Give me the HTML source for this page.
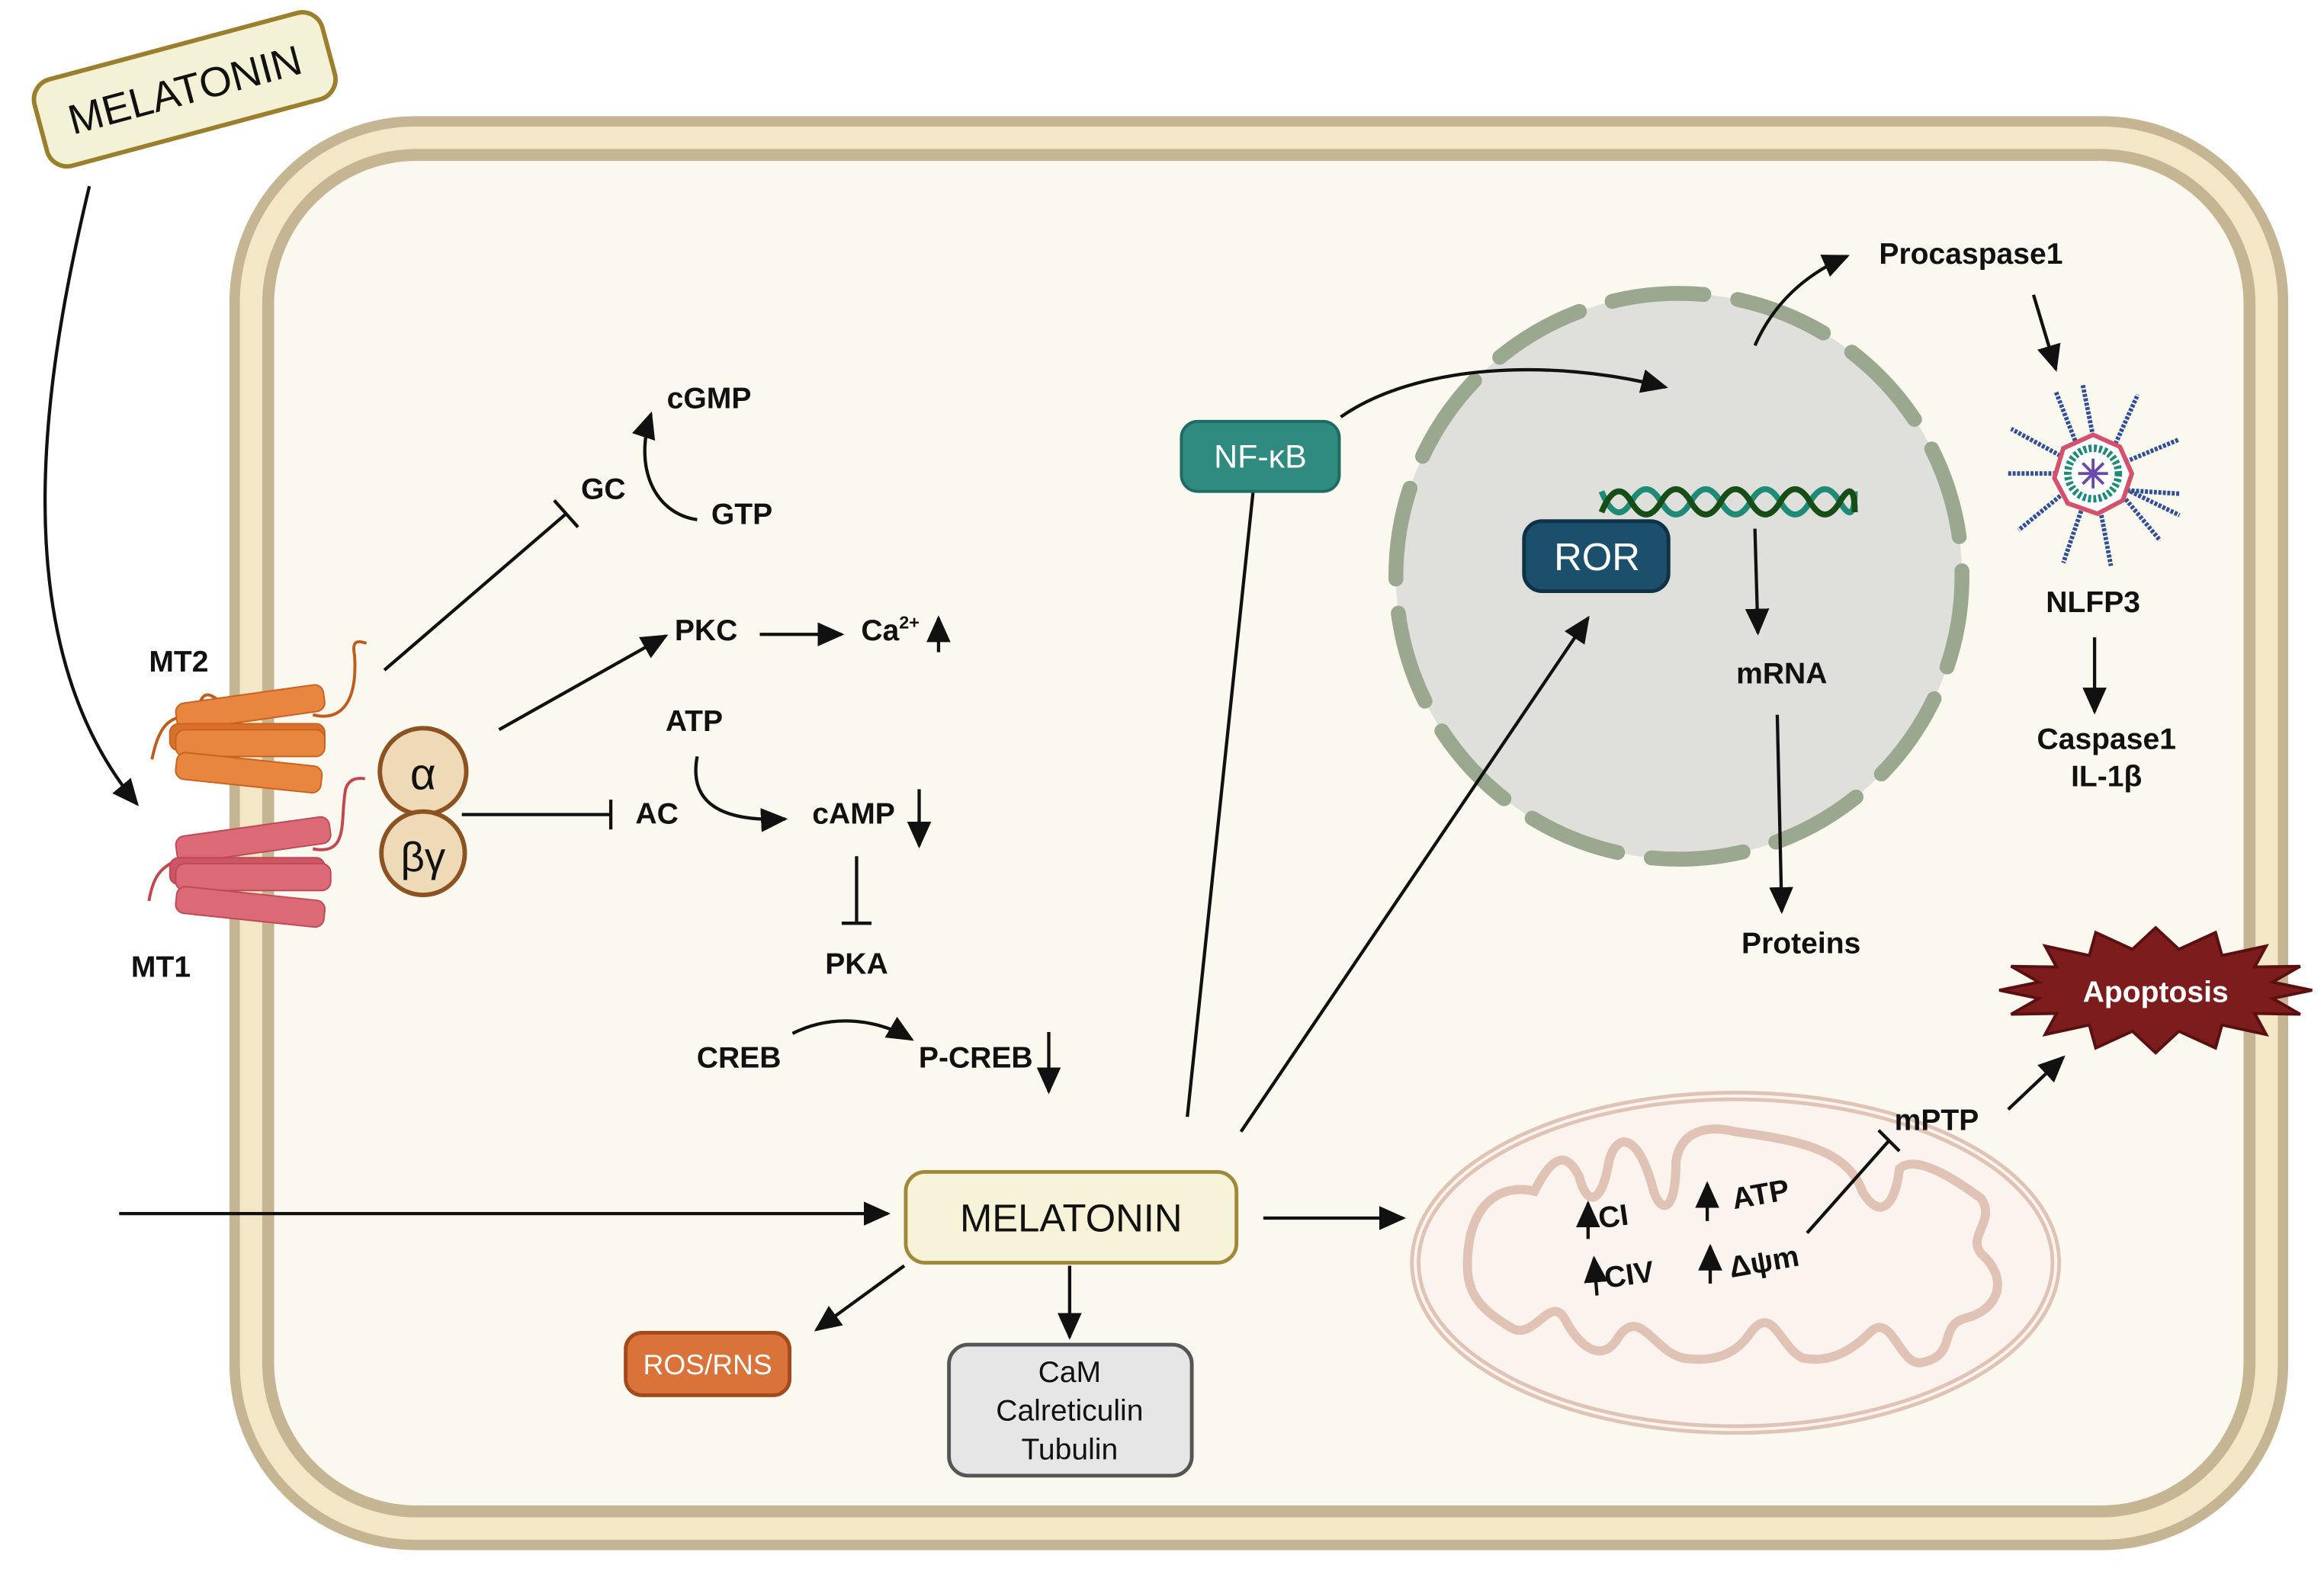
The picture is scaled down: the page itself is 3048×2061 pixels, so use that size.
<!DOCTYPE html>
<html><head><meta charset="utf-8"><style>
html,body{margin:0;padding:0;background:#fff}
svg{display:block}
text{font-family:"Liberation Sans",sans-serif;font-weight:bold;fill:#111}
</style></head><body>
<svg width="3048" height="2061" viewBox="0 0 1560 1055" preserveAspectRatio="none" xmlns="http://www.w3.org/2000/svg">
<defs>
<marker id="ah" viewBox="0 0 10 10" refX="9" refY="5" markerWidth="18" markerHeight="18" orient="auto" markerUnits="userSpaceOnUse"><path d="M0,0.5 L10,5 L0,9.5 z" fill="#111"/></marker>
</defs>
<rect width="1560" height="1055" fill="#fff"/>
<!-- cell -->
<rect x="154" y="78" width="1382" height="963" rx="125" fill="#c5b592"/>
<rect x="161" y="85" width="1368" height="949" rx="118" fill="#f4e7c7"/>
<rect x="176" y="100" width="1338" height="919" rx="104" fill="#c5b592"/>
<rect x="184" y="108" width="1322" height="903" rx="96" fill="#fbf8ef"/>

<!-- top melatonin tag -->
<g transform="translate(124,60) rotate(-15)">
<rect x="-100" y="-30" width="200" height="60" rx="14" fill="#f3f1d6" stroke="#9b7f2c" stroke-width="3"/>
<text x="0" y="10" text-anchor="middle" font-size="28" style="font-weight:normal">MELATONIN</text>
</g>
<path d="M60,125 C30,250 0,430 92,540" fill="none" stroke="#111" stroke-width="2.2" marker-end="url(#ah)"/>

<!-- receptors MT2 -->
<g stroke="#c25a1c" stroke-width="2" fill="none">
<path d="M102,510 C110,470 125,490 135,470 C140,460 150,475 158,480"/>
<path d="M210,480 C230,485 240,470 238,440 C236,430 240,430 246,432"/>
</g>
<g fill="#e8853e" stroke="#c9631f" stroke-width="1">
<rect x="118" y="466" width="100" height="18" rx="6" transform="rotate(-8 168 475)"/>
<rect x="114" y="486" width="104" height="18" rx="6" fill="#d9712d"/>
<rect x="118" y="490" width="100" height="18" rx="6"/>
<rect x="118" y="510" width="98" height="18" rx="6" transform="rotate(6 168 519)"/>
</g>
<!-- MT1 -->
<g stroke="#c4464f" stroke-width="2" fill="none">
<path d="M100,605 C105,575 118,585 130,565 C135,555 148,565 158,568"/>
<path d="M210,570 C235,575 228,550 232,530 C234,523 240,522 245,523"/>
</g>
<g fill="#db6a76" stroke="#bf4a57" stroke-width="1">
<rect x="118" y="555" width="104" height="18" rx="6" transform="rotate(-8 170 564)"/>
<rect x="114" y="576" width="104" height="18" rx="6" fill="#cc5663"/>
<rect x="118" y="580" width="104" height="18" rx="6"/>
<rect x="118" y="600" width="100" height="18" rx="6" transform="rotate(6 168 609)"/>
</g>
<circle cx="284" cy="518" r="29" fill="#efdab8" stroke="#8c5222" stroke-width="3"/>
<circle cx="284" cy="573" r="28" fill="#efdab8" stroke="#8c5222" stroke-width="3"/>
<text x="284" y="530" text-anchor="middle" font-size="30" style="font-weight:normal">α</text>
<text x="284" y="585" text-anchor="middle" font-size="28" style="font-weight:normal">βγ</text>
<text x="120" y="451" text-anchor="middle" font-size="20">MT2</text>
<text x="108" y="656" text-anchor="middle" font-size="20">MT1</text>

<!-- nucleus (drawn before arrows) -->
<circle cx="1127" cy="387" r="190" fill="#dfe0dc" stroke="#9ba890" stroke-width="10" stroke-dasharray="62 23" stroke-linecap="round"/>

<!-- signalling -->
<g stroke="#111" stroke-width="2.2" fill="none">
<line x1="258" y1="450" x2="380" y2="345"/>
<line x1="372" y1="336" x2="388" y2="354"/>
<path d="M468,349 C440,345 425,315 437,278" marker-end="url(#ah)"/>
<line x1="335" y1="490" x2="447" y2="427" marker-end="url(#ah)"/>
<line x1="510" y1="426" x2="565" y2="426" marker-end="url(#ah)"/>
<line x1="630" y1="438" x2="630" y2="415" marker-end="url(#ah)"/>
<line x1="310" y1="547" x2="410" y2="547"/>
<line x1="410" y1="537" x2="410" y2="557"/>
<path d="M468,508 C462,540 485,552 527,550" marker-end="url(#ah)"/>
<line x1="617" y1="530" x2="617" y2="568" marker-end="url(#ah)"/>
<line x1="575" y1="575" x2="575" y2="620"/>
<line x1="565" y1="620" x2="585" y2="620"/>
<path d="M532,694 C560,680 590,685 612,698" marker-end="url(#ah)"/>
<line x1="704" y1="693" x2="704" y2="733" marker-end="url(#ah)"/>
<line x1="80" y1="815" x2="596" y2="815" marker-end="url(#ah)"/>
<line x1="848" y1="818" x2="942" y2="818" marker-end="url(#ah)"/>
<line x1="607" y1="850" x2="548" y2="893" marker-end="url(#ah)"/>
<line x1="718" y1="850" x2="718" y2="898" marker-end="url(#ah)"/>
<line x1="797" y1="750" x2="842" y2="322"/>
<line x1="832" y1="321" x2="852" y2="323"/>
<path d="M900,280 C950,245 1040,240 1118,260" marker-end="url(#ah)"/>
<line x1="833" y1="760" x2="1066" y2="415" marker-end="url(#ah)"/>
</g>
<text x="405" y="335" text-anchor="middle" font-size="20">GC</text>
<text x="498" y="352" text-anchor="middle" font-size="20">GTP</text>
<text x="476" y="274" text-anchor="middle" font-size="20">cGMP</text>
<text x="474" y="430" text-anchor="middle" font-size="20">PKC</text>
<text x="578" y="430" font-size="20">Ca<tspan font-size="12" dy="-8">2+</tspan></text>
<text x="466" y="491" text-anchor="middle" font-size="20">ATP</text>
<text x="573" y="553" text-anchor="middle" font-size="20">cAMP</text>
<text x="441" y="553" text-anchor="middle" font-size="20">AC</text>
<text x="575" y="654" text-anchor="middle" font-size="20">PKA</text>
<text x="496" y="717" text-anchor="middle" font-size="20">CREB</text>
<text x="655" y="717" text-anchor="middle" font-size="20">P-CREB</text>

<!-- Melatonin center -->
<rect x="608" y="787" width="222" height="61" rx="13" fill="#f6f3d9" stroke="#a08a3a" stroke-width="2.5"/>
<text x="719" y="827" text-anchor="middle" font-size="26" style="font-weight:normal">MELATONIN</text>
<rect x="420" y="895" width="110" height="42" rx="11" fill="#d9733a" stroke="#a4491c" stroke-width="2.5"/>
<text x="475" y="923" text-anchor="middle" font-size="19" style="font-weight:normal;fill:#fff">ROS/RNS</text>
<rect x="637" y="903" width="163" height="88" rx="13" fill="#e6e6e6" stroke="#555" stroke-width="2.5"/>
<text x="718" y="928" text-anchor="middle" font-size="20" style="font-weight:normal">CaM</text>
<text x="718" y="954" text-anchor="middle" font-size="20" style="font-weight:normal">Calreticulin</text>
<text x="718" y="980" text-anchor="middle" font-size="20" style="font-weight:normal">Tubulin</text>

<!-- NF-kB -->
<rect x="793" y="283" width="106" height="47" rx="11" fill="#2f8a80" stroke="#1f6a62" stroke-width="2"/>
<text x="846" y="314" text-anchor="middle" font-size="22" style="font-weight:normal;fill:#fff">NF-κB</text>

<path d="M1178,232 C1190,205 1210,185 1240,172" fill="none" stroke="#111" stroke-width="2.2" marker-end="url(#ah)"/>
<path d="M1075,330 Q1085,354 1095,337 T1115,337 T1135,337 T1155,337 T1175,337 T1195,337 T1215,337 T1235,337 T1245,330" fill="none" stroke="#1f8a76" stroke-width="4"/>
<path d="M1075,344 Q1085,320 1095,337 T1115,337 T1135,337 T1155,337 T1175,337 T1195,337 T1215,337 T1235,337 T1245,344" fill="none" stroke="#174d16" stroke-width="4"/>
<rect x="1023" y="350" width="97" height="47" rx="12" fill="#1c4f6b" stroke="#0e3346" stroke-width="2.5"/>
<text x="1072" y="383" text-anchor="middle" font-size="26" style="font-weight:normal;fill:#fff">ROR</text>
<g stroke="#111" stroke-width="2.2" fill="none">
<line x1="1178" y1="355" x2="1180" y2="425" marker-end="url(#ah)"/>
<line x1="1193" y1="480" x2="1196" y2="612" marker-end="url(#ah)"/>
<line x1="1365" y1="198" x2="1380" y2="248" marker-end="url(#ah)"/>
<line x1="1406" y1="428" x2="1406" y2="478" marker-end="url(#ah)"/>
<line x1="1348" y1="745" x2="1385" y2="710" marker-end="url(#ah)"/>
</g>
<text x="1196" y="459" text-anchor="middle" font-size="20">mRNA</text>
<text x="1209" y="640" text-anchor="middle" font-size="20">Proteins</text>
<text x="1323" y="177" text-anchor="middle" font-size="20">Procaspase1</text>
<text x="1405" y="411" text-anchor="middle" font-size="20">NLFP3</text>
<text x="1414" y="503" text-anchor="middle" font-size="20">Caspase1</text>
<text x="1414" y="528" text-anchor="middle" font-size="20">IL-1β</text>

<!-- NLRP3 icon -->
<g transform="translate(1405,318)">
<g stroke="#2f4f9a" stroke-width="3" stroke-dasharray="2 1">
<line x1="0" y1="-25" x2="-7" y2="-60"/><line x1="15" y1="-20" x2="30" y2="-53"/>
<line x1="22" y1="-8" x2="58" y2="-23"/><line x1="25" y1="5" x2="60" y2="-2" transform="rotate(15)"/>
<line x1="20" y1="15" x2="45" y2="45"/><line x1="5" y1="25" x2="12" y2="62"/>
<line x1="-8" y1="25" x2="-20" y2="60"/><line x1="-22" y1="15" x2="-50" y2="38"/>
<line x1="-25" y1="0" x2="-58" y2="0"/><line x1="-22" y1="-12" x2="-55" y2="-30"/>
<line x1="-12" y1="-22" x2="-25" y2="-55"/><line x1="25" y1="12" x2="58" y2="28"/>
</g>
<polygon points="0,-26 18,-18 26,0 20,18 3,27 -17,20 -26,3 -20,-17" fill="#fff" stroke="#d6506b" stroke-width="3"/>
<circle r="17" fill="#fff" stroke="#1e8a7a" stroke-width="5" stroke-dasharray="2 1.5"/>
<g stroke="#6a4aa8" stroke-width="2"><line x1="-10" y1="0" x2="10" y2="0"/><line x1="0" y1="-10" x2="0" y2="10"/><line x1="-7" y1="-7" x2="7" y2="7"/><line x1="-7" y1="7" x2="7" y2="-7"/></g>
</g>

<!-- Apoptosis -->
<polygon transform="translate(1447,665)" fill="#7d1c1c" stroke="#5a1010" stroke-width="2" points="105,0 78.5,5.5 97,16.1 66.5,15.6 74.2,29.7 44.5,23.3 40.2,38.8 15.6,27.5 0,42 -15.6,27.5 -40.2,38.8 -44.5,23.3 -74.2,29.7 -66.5,15.6 -97,16.1 -78.5,5.5 -105,0 -78.5,-5.5 -97,-16.1 -66.5,-15.6 -74.2,-29.7 -44.5,-23.3 -40.2,-38.8 -15.6,-27.5 0,-42 15.6,-27.5 40.2,-38.8 44.5,-23.3 74.2,-29.7 66.5,-15.6 97,-16.1 78.5,-5.5"/>
<text x="1447" y="673" text-anchor="middle" font-size="20" style="fill:#fff">Apoptosis</text>

<!-- Mitochondria -->
<ellipse cx="1165" cy="848" rx="215" ry="112" fill="#fbf3ee" stroke="#e0c3b4" stroke-width="7"/>
<ellipse cx="1165" cy="848" rx="215" ry="112" fill="none" stroke="#fbf3ee" stroke-width="2"/>
<path id="cr" d="M985,850 C985,805 1010,795 1030,800 C1040,780 1050,770 1060,790 C1065,810 1075,810 1080,780 C1085,760 1100,760 1110,800 C1115,815 1125,815 1125,780 C1128,760 1145,755 1165,760 C1200,765 1240,770 1250,800 C1262,820 1272,810 1275,785 C1285,775 1310,790 1330,805 C1340,820 1320,830 1330,842 C1350,860 1340,880 1320,885 C1300,890 1315,910 1290,915 C1275,918 1270,880 1255,895 C1240,910 1225,915 1210,912 C1195,905 1190,875 1175,895 C1165,910 1150,915 1130,912 C1110,908 1100,875 1085,900 C1075,915 1060,905 1050,885 C1040,870 1030,900 1015,892 C995,880 985,870 985,850 Z" fill="none" stroke="#e0c3b4" stroke-width="6"/>
<use href="#cr" stroke="#f8ece6" stroke-width="2"/>
<g stroke="#111" stroke-width="2.2" fill="none">
<line x1="1066" y1="832" x2="1066" y2="808" marker-end="url(#ah)"/>
<line x1="1072" y1="870" x2="1070" y2="845" marker-end="url(#ah)"/>
<line x1="1146" y1="820" x2="1146" y2="795" marker-end="url(#ah)"/>
<line x1="1148" y1="862" x2="1148" y2="837" marker-end="url(#ah)"/>
<line x1="1213" y1="828" x2="1268" y2="766"/>
<line x1="1261" y1="759" x2="1275" y2="773"/>
</g>
<text x="1074" y="825" font-size="20" transform="rotate(-8 1074 825)">CI</text>
<text x="1078" y="865" font-size="20" transform="rotate(-8 1078 865)">CIV</text>
<text x="1164" y="812" font-size="20" transform="rotate(-10 1164 812)">ATP</text>
<text x="1162" y="858" font-size="20" transform="rotate(-10 1162 858)">Δψm</text>
<text x="1300" y="759" text-anchor="middle" font-size="20">mPTP</text>
</svg>
</body></html>
